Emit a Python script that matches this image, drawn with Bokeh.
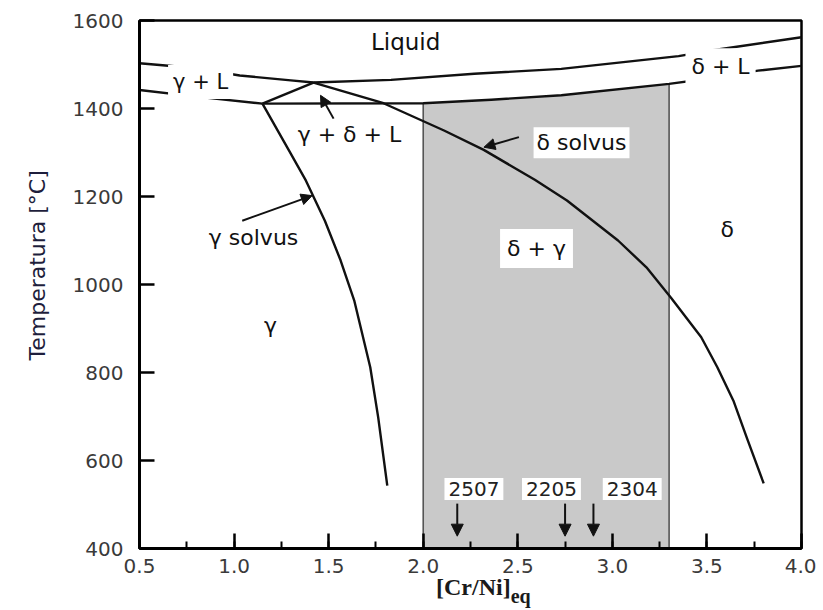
import numpy as np
from bokeh.plotting import figure
from bokeh.layouts import column
from bokeh.models import (Label, Arrow, NormalHead, Range1d, Title, Div,
                          SingleIntervalTicker, PrintfTickFormatter)
from bokeh.embed import file_html
from bokeh.resources import INLINE

# ---------------- data ----------------
# liquidus (upper line)
liq_x = [0.5, 0.79, 1.03, 1.30, 1.42, 1.83, 2.27, 2.73, 3.35, 3.54, 4.0]
liq_t = [1503, 1492, 1475, 1464, 1459, 1465, 1479, 1490, 1519, 1533, 1562]
# gamma solidus (left, below gamma + L)
gsol_x = [0.5, 0.8, 1.15]
gsol_t = [1442, 1427, 1411]
# peritectic line + delta solidus (lower right line)
dsol_x = [1.15, 2.0, 2.36, 2.73, 3.3, 3.56, 3.77, 4.0]
dsol_t = [1411, 1412, 1420, 1430, 1456, 1471, 1486, 1497]
# left side of the three-phase triangle
tri_x = [1.15, 1.42]
tri_t = [1411, 1459]
# delta solvus
dsolv_x = [1.42, 1.79, 2.11, 2.32, 2.59, 2.76, 3.03, 3.18, 3.31, 3.47, 3.555, 3.64, 3.714, 3.80]
dsolv_t = [1459, 1412, 1350, 1306, 1238, 1191, 1100, 1039, 970, 880, 812, 736, 648, 548]
# gamma solvus
gsolv_x = [1.15, 1.29, 1.38, 1.48, 1.563, 1.635, 1.72, 1.762, 1.81]
gsolv_t = [1411, 1305, 1236, 1145, 1055, 964, 812, 698, 543]
# shaded duplex window
duplex_x = [2.0, 3.3]
# duplex grades and their [Cr/Ni]eq
grades = ["2507", "2205", "2304"]
grade_x = [2.18, 2.75, 2.90]

x_ticks_major = 0.5
y_ticks_major = 200

# ---------------- figure ----------------
p = figure(width=816, height=583, output_backend="svg", toolbar_location=None,
           x_range=Range1d(0.5, 4.0), y_range=Range1d(400, 1600),
           min_border_left=139, min_border_right=15, min_border_top=20,
           min_border_bottom=35)
p.background_fill_color = "white"
p.border_fill_color = "white"
p.outline_line_color = "black"
p.outline_line_width = 2.5
p.grid.visible = False

SANS = "DejaVu Sans"
LINE = "#111111"

# shaded region under the delta solidus between 2.0 and 3.3
shade_x = [x for x in dsol_x if duplex_x[0] <= x <= duplex_x[1]]
shade_top = list(np.interp(shade_x, dsol_x, dsol_t))
p.varea(x=shade_x, y1=[400] * len(shade_x), y2=shade_top, fill_color="#c9c9c9")
edge_top = list(np.interp(duplex_x, dsol_x, dsol_t))
p.segment(x0=duplex_x, y0=[400, 400], x1=duplex_x, y1=edge_top,
          line_color="#555555", line_width=1.6)

for xs, ts in [(liq_x, liq_t), (gsol_x, gsol_t), (dsol_x, dsol_t),
               (tri_x, tri_t), (dsolv_x, dsolv_t), (gsolv_x, gsolv_t)]:
    p.line(xs, ts, line_color=LINE, line_width=2.4, line_join="round")

# ---------------- axes ----------------
p.xaxis.ticker = SingleIntervalTicker(interval=x_ticks_major, num_minor_ticks=2)
p.yaxis.ticker = SingleIntervalTicker(interval=y_ticks_major, num_minor_ticks=0)
p.xaxis.formatter = PrintfTickFormatter(format="%.1f")
p.yaxis.formatter = PrintfTickFormatter(format="%d")
for ax in (p.xaxis, p.yaxis):
    ax.axis_line_width = 3
    ax.axis_line_color = "black"
    ax.major_tick_in = 15
    ax.major_tick_out = 0
    ax.major_tick_line_width = 2.5
    ax.major_tick_line_color = "black"
    ax.minor_tick_in = 7
    ax.minor_tick_out = 0
    ax.minor_tick_line_width = 2
    ax.minor_tick_line_color = "black"
    ax.major_label_text_font = SANS
    ax.major_label_text_font_size = "20px"
    ax.major_label_text_color = "#3a3a3a"
p.yaxis.minor_tick_line_color = None
p.xaxis.major_label_standoff = 10
p.yaxis.major_label_standoff = 16

# y axis title (side title, shifted along the axis)
p.add_layout(Title(text="Temperatura [°C]", align="left", offset=188,
                   standoff=39, text_font=SANS, text_font_size="22px",
                   text_font_style="normal", text_color="#1e1e3c"), "left")


def lab(x, y, text, size="22px", font=SANS, box=False, pad=4, color="#111111"):
    kw = dict(x=x, y=y, text=text, text_font=font, text_font_size=size,
              text_align="center", text_baseline="middle", text_color=color)
    if box:
        kw.update(background_fill_color="white", padding=pad)
    p.add_layout(Label(**kw))


# region labels
lab(1.907, 1551, "Liquid", size="23px")
lab(0.823, 1460, "γ + L", size="21px", box=True, pad=5)
lab(1.61, 1342, "γ + δ + L")
lab(1.103, 1106, "γ solvus")
lab(2.837, 1322, "δ solvus", box=True, pad=3)
lab(2.599, 1082, "δ + γ", box=True, pad=7)
lab(3.607, 1124, "δ")
lab(3.572, 1495, "δ + L", box=True, pad=6)
lab(1.193, 907, "γ")


# pointer arrows
def arrow(x0, y0, x1, y1, size=11):
    p.add_layout(Arrow(end=NormalHead(size=size, fill_color=LINE, line_color=LINE),
                       x_start=x0, y_start=y0, x_end=x1, y_end=y1,
                       line_color=LINE, line_width=2))


arrow(1.526, 1377, 1.457, 1430)
arrow(1.043, 1145, 1.413, 1202)
arrow(2.506, 1335, 2.321, 1312)

# grade markers
grade_label_x = [2.268, 2.678, 3.105]
for g, gx, lx in zip(grades, grade_x, grade_label_x):
    lab(lx, 535, g, size="20px", box=True, pad=4, color="#222222")
    arrow(gx, 502, gx, 428, size=12)

# x axis title with subscript
xlabel = Div(
    text=('<span style="font-family:\'Liberation Serif\'; font-size:24px; '
          'font-weight:bold; color:#1a1a1a; line-height:22px; white-space:nowrap; '
          'position:relative; top:-7px">'
          '[Cr/Ni]<span style="font-size:20px; position:relative; top:8px">eq</span>'
          '</span>'),
    width=200, height=24, margin=(0, 0, 0, 436),
    styles={"font-size": "22px", "line-height": "22px"})

layout = column(p, xlabel, spacing=0)
open("out.html", "w").write(file_html(layout, INLINE))
